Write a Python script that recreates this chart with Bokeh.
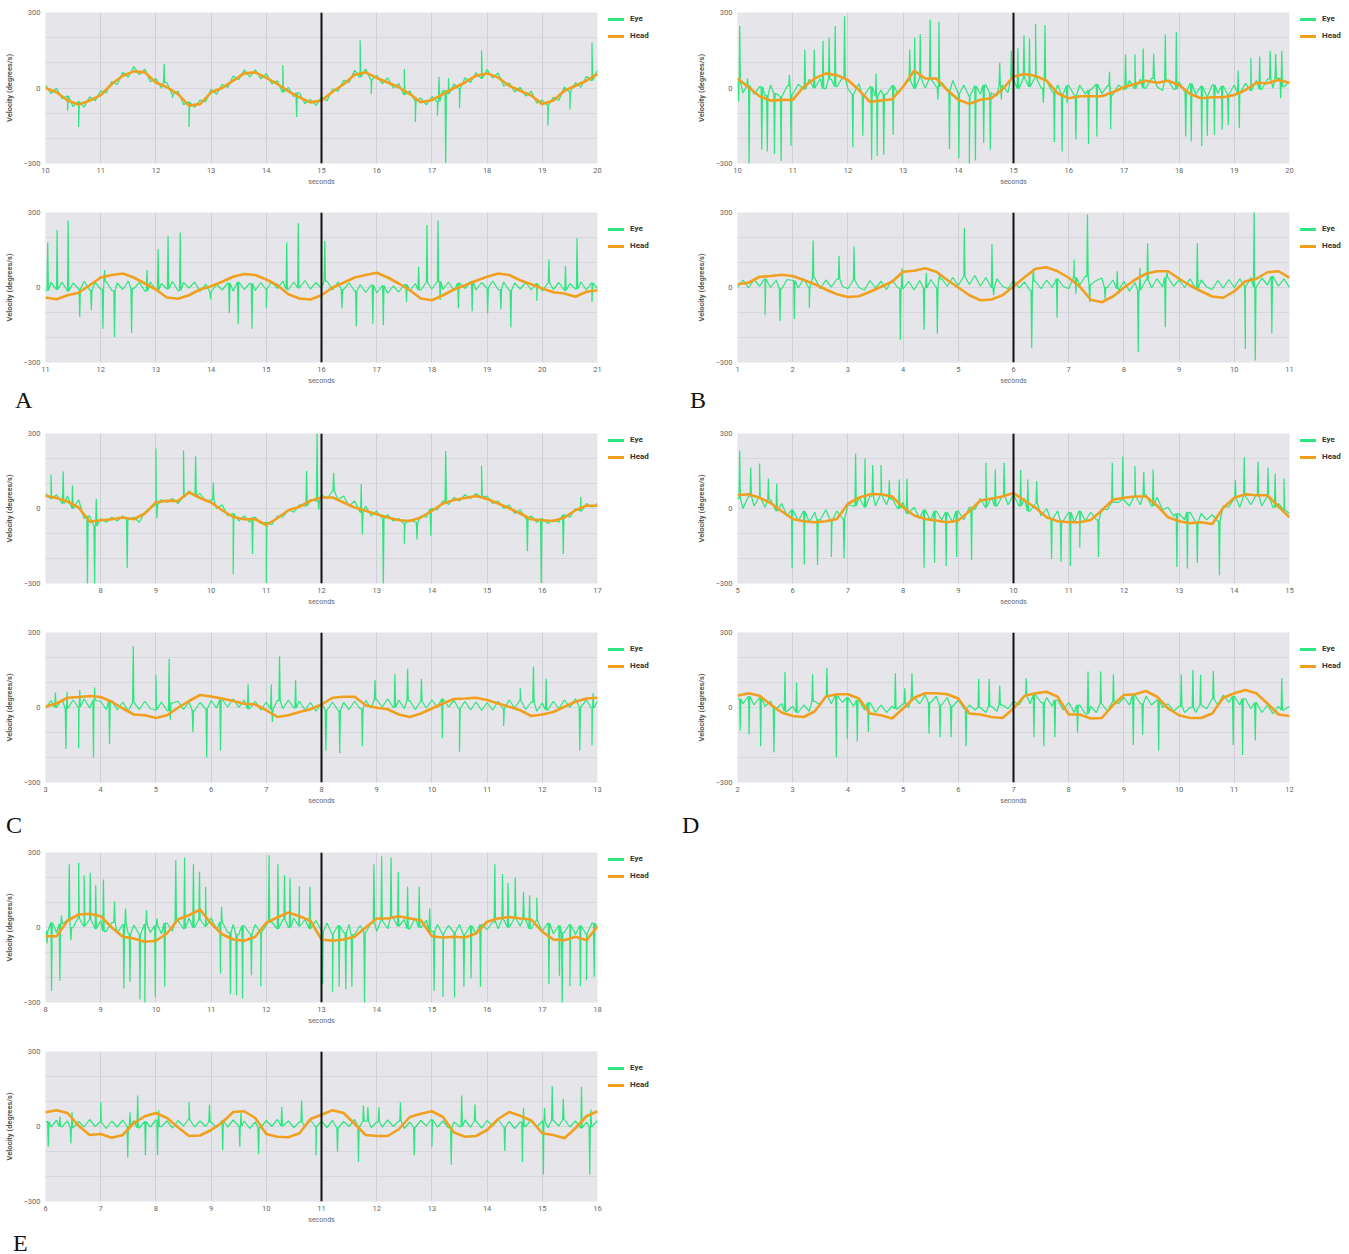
import numpy as np
from bokeh.plotting import figure
from bokeh.models import FixedTicker, Span, Div, Range1d
from bokeh.layouts import row, column
from bokeh.embed import file_html
from bokeh.resources import INLINE

EYE_COLOR = "#2ee67f"
HEAD_COLOR = "#f0a01e"
SERIES_NAMES = ["Eye", "Head"]

# ---------------- panel starts (seconds) ----------------
a1_t0, a2_t0, b1_t0, b2_t0 = 10, 11, 10, 1
c1_t0, c2_t0, d1_t0, d2_t0 = 7, 3, 5, 2
e1_t0, e2_t0 = 8, 6
# first labelled x tick per panel
a1_tick, a2_tick, b1_tick, b2_tick = 10, 11, 10, 1
c1_tick, c2_tick, d1_tick, d2_tick = 8, 3, 5, 2
e1_tick, e2_tick = 8, 6

# ---------------- head velocity (every 0.2 s) ----------------
a1_head = [0,-17,-50,-66,-50, -28,16,49,66,62, 22,3,-24,-70,-64, -17,0,29,58,62, 40,16,-13,-37,-57,
           -50,-15,15,53,62, 40,22,3,-24,-57, -48,-24,0,22,49, 58,42,9,-11,-30, -64,-50,-11,9,29, 56]
a2_head = [-40,-47,-31,-21,9, 40,50,56,40,16, -8,-40,-45,-31,-8, 5,23,43,54,50, 32,9,-27,-44,-48,
           -31,0,19,40,50, 59,40,16,-11,-44, -51,-31,-8,9,27, 43,56,50,29,13, -4,-19,-24,-37,-17, -11]
b1_head = [38,3,-33,-50,-47, -47,5,38,58,51, 32,-8,-55,-50,-45, 5,69,38,38,-8, -47,-63,-47,-41,-5,
           45,56,48,29,-21, -41,-33,-33,-33,-17, 3,16,29,21,29, 12,-24,-41,-37,-37, -28,-8,21,19,32, 21]
b2_head = [13,19,43,46,51, 46,30,13,-8,-27, -38,-35,-17,3,23, 63,67,77,63,30, 0,-31,-51,-48,-31,
           4,41,75,81,65, 39,4,-49,-59,-36, -1,31,55,65,65, 35,8,-15,-36,-41, -15,25,35,61,65, 39]
c1_head = [51,42,28,4,-53, -47,-43,-36,-43,-20, 24,31,30,65,42, 24,-7,-34,-43,-43, -66,-39,-7,7,31,
           44,44,24,4,-9, -23,-36,-47,-50,-36, -9,20,34,42,50, 38,20,1,-20,-43, -47,-50,-36,-7,11, 11]
c2_head = [3,16,39,42,46, 42,23,-4,-28,-31, -42,-31,-1,26,50, 44,36,26,15,12, -11,-38,-31,-18,-7,
           12,39,43,43,9, -1,-7,-28,-38,-24, -4,16,34,36,39, 30,16,3,-11,-34, -28,-18,3,23,36, 39]
d1_head = [53,57,43,22,-11, -42,-51,-55,-51,-42, 19,43,57,57,48, 5,-28,-42,-48,-55, -48,-11,32,39,48,
           62,32,3,-35,-51, -55,-55,-46,-8,35, 43,48,48,12,-35, -51,-59,-55,-62,3, 43,57,53,53,8, -35]
d2_head = [47,57,47,12,-20, -34,-38,-15,43,53, 53,36,-24,-31,-44, -4,39,57,57,53, 36,-24,-28,-38,-42,
           -4,47,57,63,43, -28,-28,-44,-42,9, 50,53,66,43,-4, -31,-42,-42,-24,39, 57,70,57,16,-28, -34]
e1_head = [-35,-35,27,52,55, 45,0,-37,-44,-57, -53,-24,32,49,72, 16,-27,-48,-53,-37, 19,40,60,45,27,
           -48,-53,-48,-37,0, 36,36,45,36,29, -35,-40,-37,-40,-24, 23,36,42,36,32, -17,-48,-51,-37,-51, 5]
e2_head = [57,65,54,3,-34, -30,-45,-34,14,41, 54,34,-3,-38,-36, -14,16,58,61,34, -30,-41,-43,-27,30,
           47,65,54,11,-34, -38,-38,-11,38,51, 61,38,-24,-41,-38, -14,30,58,43,24, -27,-34,-47,-7,41, 61]

# ---------------- eye velocity baseline (every 0.1 s) ----------------
a1_eye = [12,-22,-1,-43,-32,-74,-54,-76,-35,-51, -11,-19,26,14,63,43,85,53,75,25,
          37,0,21,-24,-13,-66,-56,-77,-48,-55, -5,-25,15,2,48,33,72,44,72,37,
          57,16,29,-16,2,-35,-19,-62,-45,-69, -36,-51,-4,-13,31,22,71,43,75,34,
          50,17,41,0,18,-26,-12,-50,-40,-67, -35,-54,-10,-23,16,-3,41,22,61,38,
          73,40,60,8,20,-16,3,-32,-13,-60, -48,-68,-37,-49,4,-15,21,3,47,30, 70]
a2_eye = [-12,20,-8,22,-15,18,-5,25,-10,20, -6,24,-12,18,-8,26,-4,20,-14,22, -10,16,-6,24,-12,20,-2,22,-16,14,
          -18,12,-10,18,-14,22,-8,16,-12,20, -6,24,-4,26,-8,22,-2,28,-6,20, -4,26,-10,22,-8,18,-14,12,-20,10,
          -22,8,-24,6,-18,12,-14,16,-10,20, -6,24,-8,22,-12,18,-4,24,-10,20, -2,26,-8,22,-12,18,-6,20,-10,16,
          -14,18,-8,20,-12,16,-6,22,-10,18, -4]
b1_eye = [25,-20,10,-25,5,-30,12,-22,-35,8, -25,15,-5,35,0,38,-2,35,5,40, -2,-25,18,-28,5,-32,-8,-25,10,-22,
          5,30,-2,42,0,38,5,22,-8,30, -22,12,-30,8,-25,12,-20,-32,10,-18, 35,-2,40,5,42,0,30,-15,12,-25,
          10,-28,12,-25,-8,15,-22,8,-28,12, -5,30,-2,35,0,38,5,-10,30,-5, 25,-15,18,-25,8,-30,12,-22,8,-25,
          12,-20,18,-10,30,-5,35,0,38,5, 25]
b2_eye = [0,30,-2,32,5,35,0,30,-5,32, 28,-2,35,0,38,-5,30,2,34,5, -5,30,0,-10,28,-2,25,-8,30,0,
          -5,25,-10,28,-2,32,0,35,5,40, 8,45,12,48,5,40,0,35,5,-5, 28,-2,22,-12,25,-5,30,0,35,5,
          -5,40,10,45,12,28,38,0,30,-5, 25,-15,20,-10,30,-2,35,2,40,5, 30,0,35,-5,30,2,-8,28,-2,32,
          0,35,5,40,2,38,10,45,5,35, 0]
c1_eye = [60,40,55,20,50,0,35,-40,-30,-70, -40,-55,-35,-50,-30,-45,-35,-55,-15,0,
          15,35,25,40,20,45,70,50,60,30, 35,0,15,-30,-20,-50,-30,-55,-35,-60,
          -55,-65,-30,-35,-5,-15,15,10,35,30, 55,40,70,35,50,10,30,-15,10,-30,
          -10,-40,-25,-50,-40,-60,-45,-55,-30,-35, 0,-5,30,15,45,30,55,40,60,45,
          50,20,30,0,15,-20,-5,-40,-30,-55, -40,-60,-45,-55,-25,-35,0,-10,20,5, 20]
c2_eye = [-5,28,0,32,-5,30,2,35,-2,28, 25,-8,28,-10,22,-15,20,-8,25,-5, -10,22,-12,18,25,-8,22,-12,20,-5,
          28,-2,32,2,35,0,30,-5,25,-10, 22,-8,28,-5,30,-2,25,-10,20,-15, 18,-10,22,-12,20,-8,25,-5,28,-2,
          32,2,35,0,30,-5,28,-8,25,-2, 30,0,35,2,28,-5,25,-10,22,-12, 20,-10,25,-5,30,-2,28,-8,22,-15,
          18,-10,25,-5,30,0,35,2,30,-2, 25]
d1_eye = [40,0,50,10,45,5,35,-10,20,-30, -5,-50,-10,-55,-15,-45,-5,-50,-10,-40,
          15,10,45,5,50,10,55,15,40,0, 25,-20,5,-40,-5,-50,-10,-45,-15,-55,
          -10,-45,5,-5,40,5,45,10,50,15, 55,10,40,-10,20,-30,0,-45,-10,-50,
          -15,-55,-10,-50,-15,-45,0,-5,25,25, 35,10,50,15,55,10,45,-5,5,-30,
          -20,-45,-15,-55,-20,-45,-25,-50,10,5, 40,5,50,15,55,10,50,5,20,-5, -20]
d2_eye = [35,15,45,10,40,5,25,-5,15,-15, 5,-20,10,-15,25,10,45,15,50,20, 40,5,30,-10,20,-20,10,-20,5,-5,
          15,0,40,15,50,20,45,10,40,5, 30,-5,10,-10,0,-20,5,-15,10,-5, 25,10,45,15,50,20,40,5,30,-10,
          20,-20,10,-25,5,-20,15,-15,25,15, 40,10,50,15,45,10,30,0,15,-15, 5,-20,0,-20,10,-5,35,10,50,20,
          45,10,35,-5,20,-20,10,-25,5,-10, 5]
e1_eye = [-15,20,-20,15,30,0,38,5,32,-5, 28,-15,20,-22,12,-25,10,-28,12,-20, 8,-25,18,-15,28,-5,38,0,32,5,
          38,-8,22,-20,12,-28,8,-25,12,-20, 8,22,-5,32,0,38,5,32,-5,28, -15,18,-25,8,-20,12,-28,8,-20,18,
          -15,28,-5,38,5,32,-5,38,0,28, -15,12,-25,8,-20,12,-28,8,-25,12, -8,22,-5,32,0,38,5,32,-5,28,
          -15,18,-25,8,-20,12,-28,8,-25,18, 0]
e2_eye = [20,-2,25,0,22,-5,20,-2,28,0, 18,-8,22,-2,26,0,24,-5,20,-2, 26,0,22,-6,24,2,28,-2,22,0,
          18,-5,24,-2,26,2,22,-8,18,-4, 24,0,28,2,22,-4,18,-2,26,0, 22,-4,24,-6,20,0,28,2,22,-4,
          18,-2,26,0,22,-8,18,-3,24,2, 28,-2,22,-5,18,0,26,-3,22,-6, 24,2,28,-2,20,-8,18,0,26,-3,
          22,-5,24,2,28,-2,22,-6,18,0, 24]

# ---------------- eye saccade spikes (time, peak velocity) ----------------
a1_sp_t = [10.4,10.6,12.15,12.3,12.6,14.3,14.55,15.7,15.9,16.5,16.7,17.1,17.13,17.25,17.3,17.5,17.9,19.1,19.5,19.9]
a1_sp_v = [-90,-155,95,-40,-155,90,-115,190,-25,75,-135,-110,45,-300,40,-80,150,-150,-85,180]
a2_sp_t = [11.04,11.21,11.41,11.62,11.83,12.04,12.07,12.25,12.56,12.84,13.04,13.22,13.44,13.99,14.33,14.49,14.74,15.0,
           15.37,15.58,16.06,16.37,16.63,16.93,17.12,17.54,17.76,17.91,18.11,18.15,18.48,18.73,19.01,19.25,19.43,19.9,
           20.12,20.42,20.63,20.9]
a2_sp_v = [180,230,268,-118,-91,-165,70,-198,-182,70,153,206,220,-48,-102,-147,-165,-80,
           180,257,187,-84,-155,-145,-151,-58,83,250,268,-50,-84,-95,-104,-88,-160,-53,
           112,86,197,-58]
b1_sp_t = [10.02,10.04,10.18,10.21,10.44,10.54,10.67,10.79,10.94,10.97,11.22,11.39,11.55,11.66,11.77,11.94,12.09,12.27,
           12.43,12.51,12.53,12.65,12.82,13.12,13.21,13.31,13.49,13.63,13.65,13.84,14.01,14.2,14.31,14.46,14.58,14.75,
           14.78,14.96,15.08,15.19,15.29,15.4,15.54,15.57,15.74,15.88,15.97,16.13,16.36,16.51,16.74,16.76,17.03,17.2,
           17.35,17.54,17.75,17.95,18.12,18.22,18.41,18.51,18.64,18.78,18.89,19.07,19.09,19.3,19.46,19.65,19.75,19.84,19.86]
b1_sp_v = [-54,246,38,-305,-245,-252,-262,-290,52,-230,153,153,188,200,246,285,-235,-190,
           -285,58,-270,-265,-186,153,200,214,272,-47,263,-243,-279,-303,-288,-219,-245,100,
           -47,148,158,210,197,254,-58,250,-216,-252,-61,-206,-222,-193,65,-164,133,133,
           157,137,213,221,-193,-213,-230,-190,-186,-166,-147,69,-160,119,125,148,135,-41,148]
b2_sp_t = [1.5,1.77,2.03,2.3,2.37,2.84,3.11,3.95,3.98,4.38,4.42,4.62,4.66,5.11,5.61,5.64,6.33,6.36,
           6.79,7.1,7.13,7.34,7.38,7.66,7.88,7.91,8.26,8.29,8.43,8.75,8.78,9.33,10.2,10.36,10.38,10.68]
b2_sp_v = [-111,-134,-125,-81,188,126,164,-209,77,-169,59,-185,50,238,174,-31,-241,75,
           -121,111,-25,292,-59,-45,65,-25,-259,79,177,-159,61,177,-245,320,-292,-183]
c1_sp_t = [7.1,7.32,7.49,7.76,7.89,7.92,8.48,9.0,9.02,9.5,9.72,10.04,10.4,10.75,11.0,11.73,11.92,11.95,
           12.22,12.72,12.74,13.12,13.5,13.73,13.98,14.25,14.9,15.73,15.98,16.38,16.7]
c1_sp_v = [136,148,92,-305,-305,38,-238,240,-39,233,209,105,-263,-182,-299,150,307,-5,
           143,98,-104,-305,-141,-124,-110,230,172,-171,-299,-182,47]
c2_sp_t = [3.18,3.37,3.39,3.6,3.62,3.87,3.89,4.16,4.59,5.0,5.24,5.26,5.67,5.92,6.17,6.67,7.09,7.11,
           7.24,7.53,8.08,8.33,8.74,8.97,9.33,9.56,9.81,10.19,10.5,11.3,11.6,11.84,12.07,12.68,12.9,12.92]
c2_sp_v = [60,-166,63,-163,70,-200,80,-146,245,131,195,-49,-98,-200,-172,93,93,-58,
           205,110,-172,-183,-155,110,133,155,115,-123,-177,-74,77,164,115,-172,-152,57]
d1_sp_t = [5.04,5.24,5.4,5.56,5.71,5.99,6.21,6.45,6.7,6.93,7.14,7.31,7.45,7.6,7.75,7.93,8.07,8.38,
           8.57,8.78,8.97,9.24,9.5,9.67,9.83,10.13,10.26,10.42,10.69,10.86,11.03,11.2,11.54,11.79,11.98,12.2,
           12.36,12.53,12.96,13.15,13.33,13.73,14.02,14.18,14.43,14.61,14.74,14.9]
d1_sp_v = [232,164,180,120,100,-240,-224,-226,-194,-199,219,200,174,174,113,116,120,-237,
           -217,-230,-194,-207,183,156,183,154,116,109,-203,-213,-230,-156,-194,183,207,170,
           147,156,-234,-240,-217,-267,113,205,187,164,140,120]
d2_sp_t = [2.05,2.21,2.42,2.66,2.86,3.07,3.36,3.62,3.79,3.99,4.17,4.37,4.86,5.03,5.16,5.47,5.67,5.87,
           6.14,6.37,6.56,6.75,7.23,7.37,7.55,7.75,8.16,8.35,8.58,8.81,9.17,9.34,9.63,10.04,10.25,10.39,
           10.62,10.98,11.15,11.38,11.86]
d2_sp_v = [-92,-109,-155,-179,142,100,133,158,-199,-125,-136,-98,137,77,137,-105,-119,-119,
           -155,115,115,88,117,-119,-155,-119,-101,144,144,133,-150,-109,-172,133,151,131,
           147,-150,-190,-132,117]
e1_sp_t = [8.03,8.11,8.26,8.29,8.43,8.46,8.6,8.7,8.81,8.91,9.05,9.25,9.42,9.45,9.53,9.71,9.8,9.83,
           9.99,10.02,10.16,10.36,10.52,10.68,10.79,10.9,11.17,11.19,11.35,11.46,11.57,11.73,11.9,12.05,12.21,12.33,
           12.43,12.6,12.79,13.02,13.2,13.32,13.44,13.55,13.78,13.95,14.09,14.26,14.39,14.56,14.77,14.96,15.04,15.2,
           15.41,15.58,15.71,15.88,16.14,16.28,16.38,16.51,16.66,16.77,16.9,17.12,17.31,17.36,17.5,17.69,17.8,17.94]
e1_sp_v = [-64,-253,-213,49,253,-51,259,209,219,169,192,105,-244,76,-217,-288,-304,69,
           -277,36,-237,269,280,253,223,163,-184,83,-267,-271,-284,-191,-235,289,253,209,
           196,165,163,-227,-257,-237,-248,-237,-304,253,285,280,223,163,163,76,-253,-277,
           -280,-237,-204,-237,253,213,179,200,143,129,120,-227,-193,-304,-235,-235,-211,-197]
e2_sp_t = [6.05,6.26,6.46,6.48,7.0,7.49,7.53,7.67,7.81,8.03,8.05,8.6,8.97,9.21,9.52,9.54,9.86,10.28,
           10.64,10.9,11.29,11.67,11.76,11.84,12.04,12.43,12.68,13.0,13.35,13.54,13.78,14.32,14.64,14.66,15.02,15.04,
           15.18,15.38,15.71,15.86,15.88]
e2_sp_v = [-81,40,-68,57,97,-124,57,124,-115,-115,65,97,88,-95,-81,54,-111,78,
           105,-115,-101,-142,84,78,77,97,-115,-81,-153,124,88,-97,-142,74,-192,74,
           162,111,159,-192,68]

# ---------------- layout (sizes in px) ----------------
BORDER_L = 45
FRAME_W = 552
MAIN_RB = 8
MAIN_W = BORDER_L + FRAME_W + MAIN_RB          # 605
LEG_W = {0: 692 - MAIN_W, 1: 649 - MAIN_W}     # legend strip widths
ROW_SPECS = {  # height, top border, bottom border, legend offset from frame top
    "first": (208, 12, 45, 2),
    "top": (199, 4, 45, 2),
    "bot": (184, 4, 30, 12),
    "bot_last": (181, 4, 27, 12),
}


def build_eye(t0, base, sp_t, sp_v):
    n = len(base)
    tb = np.linspace(t0, t0 + 10, n)
    dt = 10.0 / (n - 1)
    pts = [(float(t), float(v)) for t, v in zip(tb, base)]
    for ts, vs in zip(sp_t, sp_v):
        i = min(max(int(round((ts - t0) / dt)), 0), n - 1)
        b = float(base[i])
        pts += [(ts - 0.012, b), (ts, float(vs)), (ts + 0.012, b)]
    pts.sort(key=lambda p: p[0])
    return [p[0] for p in pts], [p[1] for p in pts]


def legend_div(width, height, top_pad):
    items = ""
    for k, (name, colr) in enumerate(zip(SERIES_NAMES, [EYE_COLOR, HEAD_COLOR])):
        mb = "7px" if k == 0 else "0"
        items += ('<div style="height:10px;display:flex;align-items:center;margin-bottom:%s">'
                  '<span style="display:inline-block;width:16px;height:3px;background:%s;margin-right:6px"></span>'
                  '%s</div>' % (mb, colr, name))
    html = ('<div style="padding-left:%dpx;padding-top:%dpx;font-family:Roboto,sans-serif;font-size:8px;'
            'font-weight:bold;color:#333;line-height:10px;white-space:nowrap">%s</div>' % (11 - MAIN_RB, top_pad, items))
    return Div(text=html, width=width, height=height, margin=(0, 0, 0, 0))


def make_panel(t0, tick0, head, eye, sp_t, sp_v, col, spec):
    height, bt, bb, leg_off = ROW_SPECS[spec]
    p = figure(width=MAIN_W, height=height, x_range=Range1d(t0, t0 + 10), y_range=Range1d(-300, 300),
               output_backend="svg", toolbar_location=None,
               min_border_left=BORDER_L, min_border_right=MAIN_RB, min_border_top=bt, min_border_bottom=bb,
               background_fill_color="#e6e6ea", border_fill_color="white", outline_line_color=None)
    p.xgrid.ticker = FixedTicker(ticks=list(range(t0, t0 + 11)))
    p.ygrid.ticker = FixedTicker(ticks=[-300, -200, -100, 0, 100, 200, 300])
    p.xgrid.grid_line_color = "#cfcfd6"
    p.ygrid.grid_line_color = "#d6d6dc"
    p.xaxis.ticker = FixedTicker(ticks=list(range(tick0, t0 + 11)))
    p.yaxis.ticker = FixedTicker(ticks=[-300, 0, 300])
    for ax in (p.xaxis[0], p.yaxis[0]):
        ax.axis_line_color = None
        ax.major_tick_line_color = None
        ax.minor_tick_line_color = None
        ax.major_tick_out = 0
        ax.major_tick_in = 0
        ax.major_label_text_font = "Roboto"
        ax.major_label_text_font_size = "7.5px"
        ax.major_label_text_color = "#666666"
        ax.axis_label_text_font = "Roboto"
    p.xaxis.axis_label = "seconds"
    p.xaxis.axis_label_text_font_size = "7px"
    p.xaxis.axis_label_text_font_style = "normal"
    p.xaxis.axis_label_text_color = "#666666"
    p.xaxis.major_label_standoff = 4
    p.xaxis.axis_label_standoff = 2
    p.yaxis.axis_label = "Velocity (degrees/s)"
    p.yaxis.axis_label_text_font_size = "7.5px"
    p.yaxis.axis_label_text_font_style = "bold"
    p.yaxis.axis_label_text_color = "#555555"
    p.yaxis.major_label_standoff = 5
    p.yaxis.axis_label_standoff = 7

    ex, ey = build_eye(t0, eye, sp_t, sp_v)
    ht = list(np.linspace(t0, t0 + 10, len(head)))
    p.line(ex, ey, line_color=EYE_COLOR, line_width=1.25)
    p.line(ht, head, line_color=HEAD_COLOR, line_width=2.6)
    p.add_layout(Span(location=t0 + 5, dimension="height", line_color="#111111", line_width=2))

    return row(p, legend_div(LEG_W[col], height, bt + leg_off))


def letter(txt, width, height, pad_left, pad_top):
    html = ('<div style="font-family:\'Liberation Serif\',serif;font-size:24px;line-height:16px;'
            f'padding-left:{pad_left}px;padding-top:{pad_top}px;color:#111">{txt}</div>')
    return Div(text=html, width=width, height=height, margin=(0, 0, 0, 0))


pA1 = make_panel(a1_t0, a1_tick, a1_head, a1_eye, a1_sp_t, a1_sp_v, 0, "first")
pB1 = make_panel(b1_t0, b1_tick, b1_head, b1_eye, b1_sp_t, b1_sp_v, 1, "first")
pA2 = make_panel(a2_t0, a2_tick, a2_head, a2_eye, a2_sp_t, a2_sp_v, 0, "bot")
pB2 = make_panel(b2_t0, b2_tick, b2_head, b2_eye, b2_sp_t, b2_sp_v, 1, "bot")
pC1 = make_panel(c1_t0, c1_tick, c1_head, c1_eye, c1_sp_t, c1_sp_v, 0, "top")
pD1 = make_panel(d1_t0, d1_tick, d1_head, d1_eye, d1_sp_t, d1_sp_v, 1, "top")
pC2 = make_panel(c2_t0, c2_tick, c2_head, c2_eye, c2_sp_t, c2_sp_v, 0, "bot")
pD2 = make_panel(d2_t0, d2_tick, d2_head, d2_eye, d2_sp_t, d2_sp_v, 1, "bot")
pE1 = make_panel(e1_t0, e1_tick, e1_head, e1_eye, e1_sp_t, e1_sp_v, 0, "top")
pE2 = make_panel(e2_t0, e2_tick, e2_head, e2_eye, e2_sp_t, e2_sp_v, 0, "bot_last")

layout = column(
    row(pA1, pB1),
    row(pA2, pB2),
    row(letter("A", 680, 37, 15, 0), letter("B", 661, 37, 10, 0)),
    row(pC1, pD1),
    row(pC2, pD2),
    row(letter("C", 672, 36, 6, 5), letter("D", 669, 36, 10, 5)),
    pE1,
    pE2,
    letter("E", 680, 25, 13, 7),
)

open("out.html", "w").write(file_html(layout, INLINE))
